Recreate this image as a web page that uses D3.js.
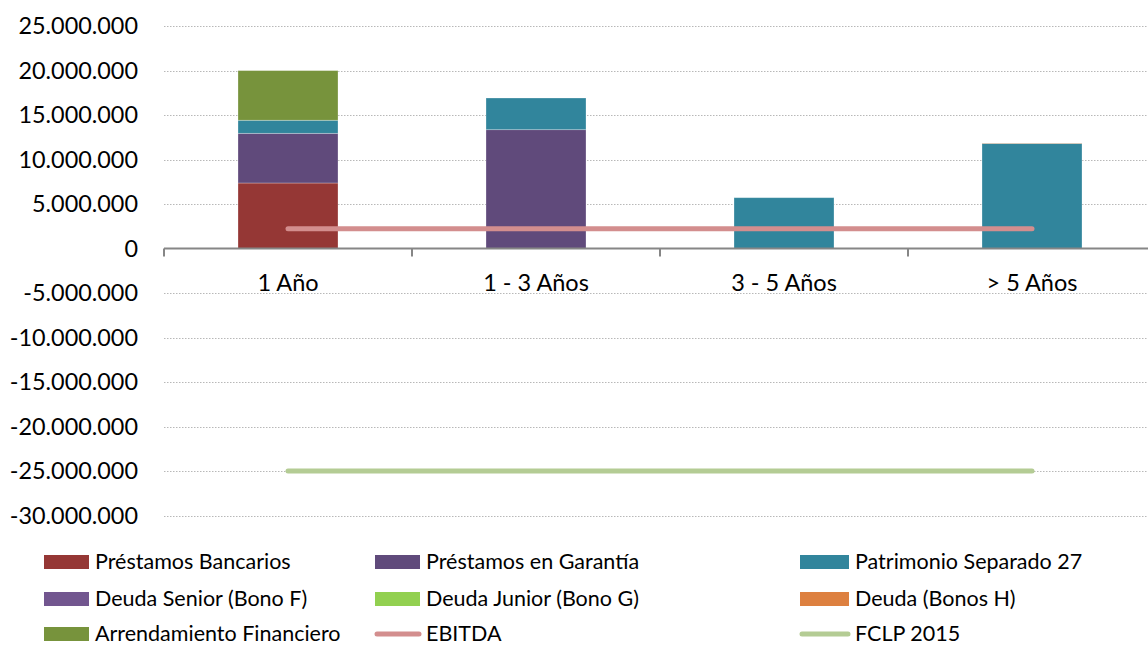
<!DOCTYPE html>
<html><head><meta charset="utf-8">
<script src="https://cdn.jsdelivr.net/npm/d3@7"></script>
<style>body{margin:0;background:#fff}svg{display:block;font-family:Lato,"Open Sans",sans-serif}</style>
</head><body><svg id="c" width="1148" height="647"></svg>
<script>
const categories = ["1 Año", "1 - 3 Años", "3 - 5 Años", "> 5 Años"];
const seriesNames = ["Préstamos Bancarios","Préstamos en Garantía","Patrimonio Separado 27","Deuda Senior (Bono F)","Deuda Junior (Bono G)","Deuda (Bonos H)","Arrendamiento Financiero"];
const prestamosBancarios = [7360000, 0, 0, 0];
const prestamosGarantia = [5580000, 13350000, 0, 0];
const patrimonioSeparado = [1470000, 3560000, 5710000, 11800000];
const deudaSenior = [0, 0, 0, 0];
const deudaJunior = [0, 0, 0, 0];
const deudaBonosH = [0, 0, 0, 40000];
const arrendamiento = [5580000, 0, 0, 0];
const ebitda = [2220000, 2220000, 2220000, 2220000];
const fclp = [-25000000, -25000000, -25000000, -25000000];
const yTicks = [25000000,20000000,15000000,10000000,5000000,0,-5000000,-10000000,-15000000,-20000000,-25000000,-30000000];
const colors = ["#953735","#604a7b","#31859c","#72568f","#92d050","#dd8040","#77933c"];
const lineNames = ["EBITDA","FCLP 2015"];
const lineColors = ["#d38e8e","#b4cc94"];

const svg = d3.select("#c");
const x = d3.scaleBand().domain(categories).range([164, 1156]).padding(0);
const y = d3.scaleLinear().domain([-30000000, 25000000]).range([515.5, 26]);
const fmt = v => d3.format(",")(v).replace(/,/g, ".").replace("\u2212", "-");

// grid
svg.append("g").selectAll("line").data(yTicks.filter(d=>d!==0)).join("line")
  .attr("x1",164).attr("x2",1156).attr("y1",d=>Math.round(y(d))+0.5).attr("y2",d=>Math.round(y(d))+0.5)
  .attr("stroke","#b8b8b8").attr("stroke-width",1).attr("stroke-dasharray","1.5,1.5");

// y labels
svg.append("g").selectAll("text").data(yTicks).join("text")
  .attr("x",138).attr("y",d=>y(d)).attr("dy","0.36em").attr("text-anchor","end")
  .attr("font-size",23.4).attr("fill","#000").text(d=>fmt(d));

// stacked bars
const rows = categories.map((c,i)=>{
  const o = {cat:c};
  [prestamosBancarios,prestamosGarantia,patrimonioSeparado,deudaSenior,deudaJunior,deudaBonosH,arrendamiento]
    .forEach((arr,k)=>o[seriesNames[k]]=arr[i]);
  return o;
});
const stack = d3.stack().keys(seriesNames)(rows);
const bw = 100;
svg.append("g").selectAll("g").data(stack).join("g").attr("fill",(d,i)=>colors[i])
  .selectAll("rect").data(d=>d.filter(s=>s[1]-s[0]>0)).join("rect")
  .attr("x",d=>x(d.data.cat)+x.bandwidth()/2-bw/2).attr("width",bw)
  .attr("y",d=>y(d[1])).attr("height",d=>y(d[0])-y(d[1]))
  .attr("stroke","rgba(255,255,255,0.35)").attr("stroke-width",0.8);

// axis at zero
const ax = svg.append("g");
ax.append("line").attr("x1",164).attr("x2",1156).attr("y1",y(0)).attr("y2",y(0)).attr("stroke","#868686").attr("stroke-width",2);
const bounds = categories.map(c=>x(c)).concat([x.range()[1]]);
ax.selectAll("line.t").data(bounds).join("line").attr("class","t")
  .attr("x1",d=>d).attr("x2",d=>d).attr("y1",y(0)).attr("y2",y(0)+8).attr("stroke","#868686").attr("stroke-width",2);
ax.selectAll("text").data(categories).join("text")
  .attr("x",d=>x(d)+x.bandwidth()/2).attr("y",291).attr("text-anchor","middle")
  .attr("font-size",23.5).attr("fill","#000").text(d=>d);

// lines
const line = d3.line().x((d,i)=>x(categories[i])+x.bandwidth()/2).y(d=>y(d));
[ebitda, fclp].forEach((arr,k)=>{
  svg.append("path").datum(arr).attr("d",line).attr("fill","none")
    .attr("stroke",lineColors[k]).attr("stroke-width",5).attr("stroke-linecap","round");
});

// legend
const legendItems = seriesNames.map((n,i)=>({name:n,color:colors[i],type:"rect"}))
  .concat(lineNames.map((n,i)=>({name:n,color:lineColors[i],type:"line"})));
const colX = [44, 375, 800];
const rowY = [562, 599, 634];
const lg = svg.append("g");
legendItems.forEach((it,i)=>{
  const cx = colX[i%3], cy = rowY[Math.floor(i/3)];
  if(it.type==="rect"){
    lg.append("rect").attr("x",cx).attr("y",cy-7).attr("width",i%3===2?49:45).attr("height",14).attr("fill",it.color);
  } else {
    lg.append("line").attr("x1",cx+2).attr("x2",cx+(i%3===2?48:44)).attr("y1",cy).attr("y2",cy)
      .attr("stroke",it.color).attr("stroke-width",5).attr("stroke-linecap","round");
  }
  lg.append("text").attr("x",cx+(i%3===2?55:51)).attr("y",cy).attr("dy","0.34em")
    .attr("font-size",21.5).attr("fill","#000").text(it.name);
});
</script></body></html>
